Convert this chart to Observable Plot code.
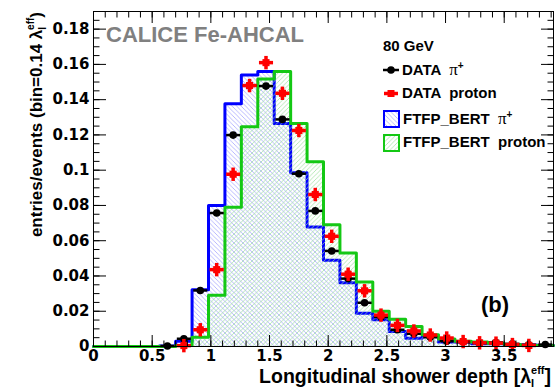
<!DOCTYPE html>
<html>
<head>
<meta charset="utf-8">
<script src="https://cdn.jsdelivr.net/npm/d3@7"></script>
<script src="https://cdn.jsdelivr.net/npm/@observablehq/plot@0.6"></script>
<style>
  html, body { margin: 0; padding: 0; background: #fff; }
  #chart svg { display: block; }
</style>
</head>
<body>
<div id="chart"></div>
<script>
// Longitudinal shower profiles, 80 GeV pions and protons in the CALICE Fe-AHCAL
const binWidth = 0.14;      // λ_I^eff per bin
const nBins = 28;

// FTFP_BERT simulation, π+ (fraction of events per bin)
const mcPion = [0, 0, 0, 0, 0.0003, 0.003, 0.0322, 0.080, 0.1377, 0.154, 0.156, 0.1265, 0.0985, 0.0678,
  0.0489, 0.0362, 0.0189, 0.0152, 0.0085, 0.0047, 0.0056, 0.0025, 0.0025, 0.0016, 0.0015, 0.0011, 0.0009, 0.0006];
// FTFP_BERT simulation, protons
const mcProton = [0, 0, 0, 0, 0, 0.0006, 0.0053, 0.029, 0.079, 0.1246, 0.1517, 0.156, 0.1265, 0.1048,
  0.069, 0.053, 0.0366, 0.020, 0.0155, 0.0114, 0.0066, 0.0042, 0.003, 0.0025, 0.0019, 0.0011, 0.0006, 0.0006];
// Test-beam data, π+ (null: empty bin)
const dataPion = [null, null, null, null, 0.0003, 0.0044, 0.0318, 0.0757, 0.1199, 0.148, 0.1477, 0.1288, 0.098, 0.0769,
  0.0542, 0.0385, 0.0248, 0.0167, 0.0095, 0.0072, 0.0053, 0.003, 0.0025, 0.002, 0.0023, 0.0015, 0.001, 0.0011];
// Test-beam data, protons
const dataProton = [null, null, null, null, null, 0.0005, 0.0095, 0.0436, 0.0977, 0.148, 0.161, 0.1436, 0.1225, 0.0862,
  0.0625, 0.041, 0.0316, 0.0178, 0.012, 0.0088, 0.0065, 0.0048, 0.0028, 0.0021, 0.0019, 0.0011, 0.0006, null];

const xTickValues = [0, 0.5, 1, 1.5, 2, 2.5, 3, 3.5];
const yTickValues = [0, 0.02, 0.04, 0.06, 0.08, 0.1, 0.12, 0.14, 0.16, 0.18];
const yMax = 0.19;

// error bar half-extents
const xErr = 0.06;
const yErrPion = 0.0012;
const yErrProton = 0.0038;

const edges = d3.range(nBins + 1).map(i => i * binWidth);
const xMinorTicks = d3.range(0, 40).map(i => i / 10).filter(v => v <= nBins * binWidth);
const yMinorTicks = d3.range(0, 39).map(i => i * 0.005).filter(v => v <= yMax);

const steps = vals => vals.flatMap((v, i) => [{x: edges[i], y: v}, {x: edges[i + 1], y: v}]);
const points = vals => vals
  .map((v, i) => ({x: (edges[i] + edges[i + 1]) / 2, y: v}))
  .filter(d => d.y != null);

const pionPts = points(dataPion);
const protonPts = points(dataProton);

const blue = "#0000ff";
const green = "#14c814";
const red = "#ff0000";

const tickFont = {fontFamily: "DejaVu Sans", fontWeight: "bold", fontSize: 15};
const plain = d => `${d}`;

const chart = Plot.plot({
  width: 556,
  height: 391,
  marginLeft: 93,
  marginRight: 3,
  marginTop: 11,
  marginBottom: 45,
  style: {background: "white", color: "black", fontFamily: "'Liberation Sans', Arial, sans-serif"},
  x: {domain: [0, nBins * binWidth], label: null},
  y: {domain: [0, yMax], label: null},
  marks: [
    // simulation histograms
    Plot.areaY(steps(mcPion), {x: "x", y1: 0, y2: "y", fill: "url(#hatch-pion)"}),
    Plot.line(steps(mcPion), {x: "x", y: "y", stroke: blue, strokeWidth: 3}),
    Plot.areaY(steps(mcProton), {x: "x", y1: 0, y2: "y", fill: "url(#hatch-proton)"}),
    Plot.line(steps(mcProton), {x: "x", y: "y", stroke: green, strokeWidth: 3}),

    // data, π+
    Plot.link(pionPts, {x1: d => d.x - xErr, x2: d => d.x + xErr, y1: "y", y2: "y", stroke: "black", strokeWidth: 2.5}),
    Plot.link(pionPts, {x1: "x", x2: "x", y1: d => d.y - yErrPion, y2: d => d.y + yErrPion, stroke: "black", strokeWidth: 2.5}),
    Plot.dot(pionPts, {x: "x", y: "y", r: 3.8, fill: "black"}),

    // data, protons
    Plot.link(protonPts, {x1: d => d.x - xErr, x2: d => d.x + xErr, y1: "y", y2: "y", stroke: red, strokeWidth: 3.5}),
    Plot.link(protonPts, {x1: "x", x2: "x", y1: d => d.y - yErrProton, y2: d => d.y + yErrProton, stroke: red, strokeWidth: 3.5}),
    Plot.dot(protonPts, {x: "x", y: "y", r: 4, symbol: "square", fill: red}),

    // inward ticks on all four sides
    Plot.axisX(xMinorTicks, {anchor: "bottom", tickSize: 5.5, dy: -5.5, fill: "none", label: null}),
    Plot.axisX(xTickValues, {anchor: "bottom", tickSize: 11, dy: -11, fill: "none", label: null}),
    Plot.axisX(xMinorTicks, {anchor: "top", tickSize: 5.5, dy: 5.5, fill: "none", label: null}),
    Plot.axisX(xTickValues, {anchor: "top", tickSize: 11, dy: 11, fill: "none", label: null}),
    Plot.axisY(yMinorTicks, {anchor: "left", tickSize: 6.5, dx: 6.5, fill: "none", label: null}),
    Plot.axisY(yTickValues, {anchor: "left", tickSize: 13, dx: 13, fill: "none", label: null}),
    Plot.axisY(yMinorTicks, {anchor: "right", tickSize: 6.5, dx: -6.5, fill: "none", label: null}),
    Plot.axisY(yTickValues, {anchor: "right", tickSize: 13, dx: -13, fill: "none", label: null}),

    // tick labels
    Plot.axisX(xTickValues, {anchor: "bottom", tickSize: 0, tickPadding: 4, tickFormat: plain, label: null, ...tickFont}),
    Plot.axisY(yTickValues, {anchor: "left", tickSize: 0, tickPadding: 4, tickFormat: plain, label: null, ...tickFont}),

    Plot.frame({stroke: "black", strokeWidth: 1})
  ]
});

document.getElementById("chart").appendChild(chart);

// hatch fills for the simulation histograms
const svg = d3.select(chart);
const defs = svg.insert("defs", ":first-child");
const p = 4.5;
defs.append("pattern")
    .attr("id", "hatch-pion")
    .attr("patternUnits", "userSpaceOnUse")
    .attr("width", p).attr("height", p)
  .append("path")
    .attr("d", `M-1,-1L${p + 1},${p + 1}M-1,${p - 1}L1,${p + 1}M${p - 1},-1L${p + 1},1`)
    .attr("stroke", "#9a9aff").attr("stroke-width", 0.7).attr("fill", "none");
defs.append("pattern")
    .attr("id", "hatch-proton")
    .attr("patternUnits", "userSpaceOnUse")
    .attr("width", p).attr("height", p)
  .append("path")
    .attr("d", `M-1,${p + 1}L${p + 1},-1M-1,1L1,-1M${p - 1},${p + 1}L${p + 1},${p - 1}`)
    .attr("stroke", "#98e098").attr("stroke-width", 0.7).attr("fill", "none");

const sans = "'Liberation Sans', Arial, sans-serif";
const serif = "'Liberation Serif', 'Times New Roman', serif";

// experiment label
svg.append("text")
  .attr("x", 106).attr("y", 41.7)
  .attr("text-anchor", "start")
  .attr("font-family", sans).attr("font-weight", "bold").attr("font-size", 22)
  .attr("fill", "#808080")
  .text("CALICE Fe-AHCAL");

// panel tag
svg.append("text")
  .attr("x", 481).attr("y", 312)
  .attr("text-anchor", "start")
  .attr("font-family", sans).attr("font-weight", "bold").attr("font-size", 22)
  .text("(b)");

// axis titles
const xTitle = svg.append("text")
  .attr("x", 551).attr("y", 382.5)
  .attr("text-anchor", "end")
  .attr("font-family", sans).attr("font-weight", "bold").attr("font-size", 19.5);
xTitle.append("tspan").text("Longitudinal shower depth [λ");
xTitle.append("tspan").attr("dy", 4).attr("font-size", 11).text("I");
xTitle.append("tspan").attr("dx", -3).attr("dy", -13).attr("font-size", 11).text("eff");
xTitle.append("tspan").attr("dy", 9).text("]");

const yTitle = svg.append("text")
  .attr("transform", "translate(42,12) rotate(-90)")
  .attr("text-anchor", "end")
  .attr("font-family", sans).attr("font-weight", "bold").attr("font-size", 17);
yTitle.append("tspan").text("entries/events (bin=0.14 λ");
yTitle.append("tspan").attr("dy", 4).attr("font-size", 10).text("I");
yTitle.append("tspan").attr("dx", -3).attr("dy", -12).attr("font-size", 10).text("eff");
yTitle.append("tspan").attr("dy", 8).text(")");

// legend
const legend = svg.append("g")
  .attr("text-anchor", "start")
  .attr("font-family", sans).attr("font-weight", "bold").attr("font-size", 15)
  .style("white-space", "pre");

legend.append("text").attr("x", 383).attr("y", 50.5).text("80 GeV");

function piLabel(g, x, y, prefix) {
  const t = g.append("text").attr("x", x).attr("y", y).attr("xml:space", "preserve");
  t.append("tspan").text(prefix);
  t.append("tspan").attr("font-family", serif).attr("font-weight", "normal").attr("font-size", 17).text("π");
  t.append("tspan").attr("dy", -6).attr("font-size", 10).text("+");
}

// DATA π+
legend.append("line").attr("x1", 383).attr("x2", 399).attr("y1", 70).attr("y2", 70)
  .attr("stroke", "black").attr("stroke-width", 2.5);
legend.append("circle").attr("cx", 391).attr("cy", 70).attr("r", 3.8).attr("fill", "black");
piLabel(legend, 402, 74.5, "DATA  ");

// DATA proton
legend.append("line").attr("x1", 384).attr("x2", 398).attr("y1", 93.5).attr("y2", 93.5)
  .attr("stroke", red).attr("stroke-width", 3.5);
legend.append("rect").attr("x", 387.5).attr("y", 90).attr("width", 7).attr("height", 7).attr("fill", red);
legend.append("text").attr("x", 402).attr("y", 98).attr("xml:space", "preserve").text("DATA  proton");

// FTFP_BERT π+
legend.append("rect").attr("x", 384).attr("y", 111).attr("width", 15).attr("height", 16)
  .attr("fill", "url(#hatch-pion)").attr("stroke", blue).attr("stroke-width", 2);
piLabel(legend, 403, 123.5, "FTFP_BERT  ");

// FTFP_BERT proton
legend.append("rect").attr("x", 384).attr("y", 135).attr("width", 15).attr("height", 16)
  .attr("fill", "url(#hatch-proton)").attr("stroke", green).attr("stroke-width", 2);
legend.append("text").attr("x", 403).attr("y", 147).attr("xml:space", "preserve").text("FTFP_BERT  proton");
</script>
</body>
</html>
